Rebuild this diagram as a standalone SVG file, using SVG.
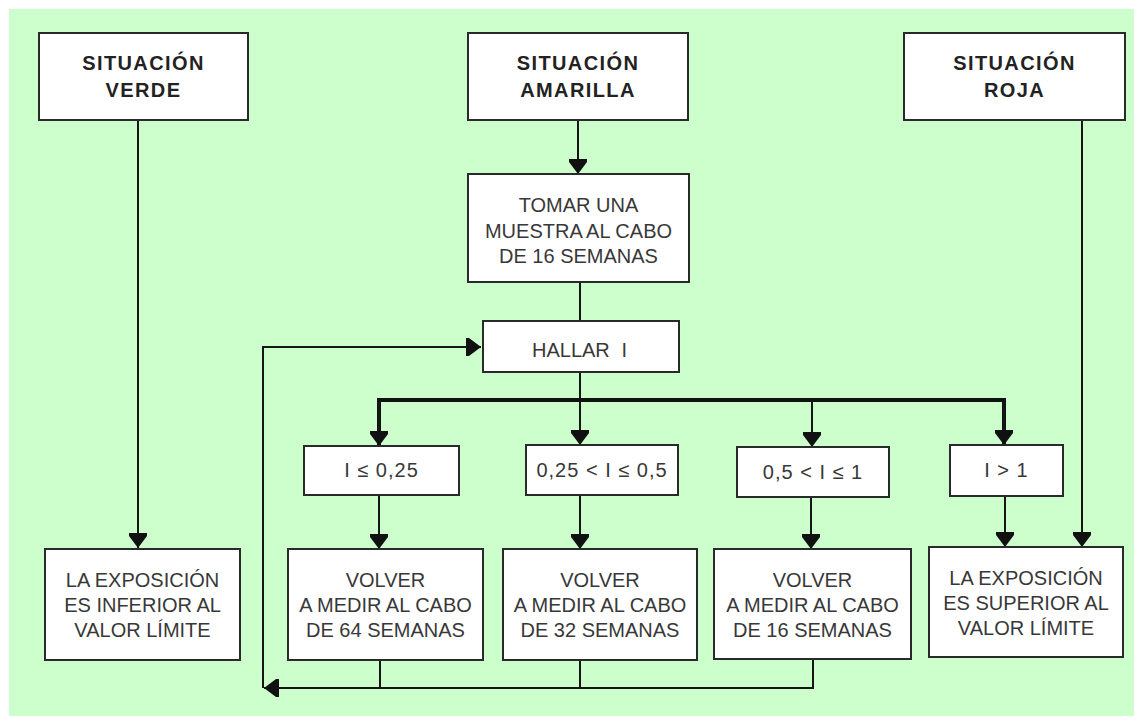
<svg xmlns="http://www.w3.org/2000/svg" width="1134" height="716" viewBox="0 0 1134 716">
<style>
.box{fill:#ffffff;stroke:#2a2a2a;stroke-width:2}
.ln{fill:none;stroke:#161616;stroke-width:2}
.bus{fill:none;stroke:#111;stroke-width:4}
.h{font-family:"Liberation Sans",Arial,sans-serif;font-size:20px;font-weight:bold;fill:#222;text-anchor:middle;letter-spacing:1.4px}
.t{font-family:"Liberation Sans",Arial,sans-serif;font-size:20px;fill:#383838;text-anchor:middle}
.c{font-family:"Liberation Sans",Arial,sans-serif;font-size:20px;fill:#383838;text-anchor:middle;letter-spacing:1px}
</style>
<defs>
<marker id="ah" markerUnits="userSpaceOnUse" viewBox="0 0 15 18" markerWidth="15" markerHeight="18" refX="15" refY="9" orient="auto">
<path d="M0,0 L3,0 L15,9 L3,18 L0,18 Z" fill="#111"/>
</marker>
</defs>
<rect x="9" y="9" width="1125" height="707" fill="#ccffcc"/>

<g id="connectors">
<line class="ln" x1="138" y1="121" x2="138" y2="548" marker-end="url(#ah)"/>
<line class="ln" x1="578" y1="121" x2="578" y2="174" marker-end="url(#ah)"/>
<line class="ln" x1="580" y1="283" x2="580" y2="321"/>
<line class="ln" x1="580" y1="373" x2="580" y2="445" marker-end="url(#ah)"/>
<polyline class="bus" points="379,446 379,400 1004,400 1004,445"/>
<line class="ln" x1="379" y1="402" x2="379" y2="446" marker-end="url(#ah)"/>
<line class="ln" x1="1004" y1="402" x2="1004" y2="445" marker-end="url(#ah)"/>
<line class="ln" x1="812" y1="401" x2="812" y2="447" marker-end="url(#ah)"/>
<line class="ln" x1="379" y1="496" x2="379" y2="549" marker-end="url(#ah)"/>
<line class="ln" x1="580" y1="496" x2="580" y2="549" marker-end="url(#ah)"/>
<line class="ln" x1="811" y1="498" x2="811" y2="549" marker-end="url(#ah)"/>
<line class="ln" x1="1005" y1="497" x2="1005" y2="547" marker-end="url(#ah)"/>
<line class="ln" x1="1082" y1="121" x2="1082" y2="547" marker-end="url(#ah)"/>
<line class="ln" x1="380" y1="661" x2="380" y2="688"/>
<line class="ln" x1="580" y1="661" x2="580" y2="688"/>
<polyline class="ln" points="813,660 813,688 264,688" marker-end="url(#ah)"/>
<polyline class="ln" points="263,688 263,347 481,347" marker-end="url(#ah)"/>
</g>

<g id="verde">
<rect class="box" x="39" y="33" width="209" height="87"/>
<text class="h" x="143.5" y="70">SITUACIÓN</text>
<text class="h" x="143.5" y="97">VERDE</text>
</g>
<g id="amarilla">
<rect class="box" x="468" y="33" width="220" height="87"/>
<text class="h" x="578" y="70">SITUACIÓN</text>
<text class="h" x="578" y="97">AMARILLA</text>
</g>
<g id="roja">
<rect class="box" x="904" y="33" width="221" height="87"/>
<text class="h" x="1014.5" y="70">SITUACIÓN</text>
<text class="h" x="1014.5" y="97">ROJA</text>
</g>
<g id="tomar">
<rect class="box" x="468" y="174" width="221" height="108"/>
<text class="t" x="578.5" y="212">TOMAR UNA</text>
<text class="t" x="578.5" y="238">MUESTRA AL CABO</text>
<text class="t" x="578.5" y="263">DE 16 SEMANAS</text>
</g>
<g id="hallar">
<rect class="box" x="483" y="321" width="196" height="51"/>
<text class="t" x="532" y="357" style="text-anchor:start">HALLAR <tspan dx="6">I</tspan></text>
</g>
<g id="cond1">
<rect class="box" x="304" y="446" width="155" height="49"/>
<text class="c" x="381.5" y="477">I ≤ 0,25</text>
</g>
<g id="cond2">
<rect class="box" x="526" y="445" width="152" height="50"/>
<text class="c" x="602" y="477">0,25 &lt; I ≤ 0,5</text>
</g>
<g id="cond3">
<rect class="box" x="737" y="447" width="152" height="50"/>
<text class="c" x="813" y="479">0,5 &lt; I ≤ 1</text>
</g>
<g id="cond4">
<rect class="box" x="950" y="445" width="113" height="51"/>
<text class="c" x="1006.5" y="477">I &gt; 1</text>
</g>
<g id="inferior">
<rect class="box" x="45" y="549" width="195" height="111"/>
<text class="t" x="142.5" y="587">LA EXPOSICIÓN</text>
<text class="t" x="142.5" y="612">ES INFERIOR AL</text>
<text class="t" x="142.5" y="637">VALOR LÍMITE</text>
</g>
<g id="volver64">
<rect class="box" x="288" y="549" width="195" height="111"/>
<text class="t" x="385.5" y="587">VOLVER</text>
<text class="t" x="385.5" y="612">A MEDIR AL CABO</text>
<text class="t" x="385.5" y="637">DE 64 SEMANAS</text>
</g>
<g id="volver32">
<rect class="box" x="503" y="549" width="194" height="111"/>
<text class="t" x="600" y="587">VOLVER</text>
<text class="t" x="600" y="612">A MEDIR AL CABO</text>
<text class="t" x="600" y="637">DE 32 SEMANAS</text>
</g>
<g id="volver16">
<rect class="box" x="714" y="549" width="197" height="110"/>
<text class="t" x="812.5" y="587">VOLVER</text>
<text class="t" x="812.5" y="612">A MEDIR AL CABO</text>
<text class="t" x="812.5" y="637">DE 16 SEMANAS</text>
</g>
<g id="superior">
<rect class="box" x="929" y="547" width="194" height="110"/>
<text class="t" x="1026" y="585">LA EXPOSICIÓN</text>
<text class="t" x="1026" y="610">ES SUPERIOR AL</text>
<text class="t" x="1026" y="635">VALOR LÍMITE</text>
</g>
</svg>
